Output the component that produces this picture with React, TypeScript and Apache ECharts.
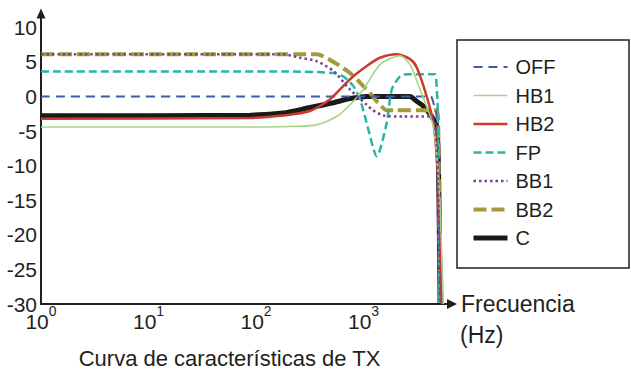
import React, { useEffect, useRef } from 'react';
import * as echarts from 'echarts';

// ---- data (frequency in Hz, level in dB) ----
const seriesNames = ['OFF', 'HB1', 'HB2', 'FP', 'BB1', 'BB2', 'C'];
const yMin = -30;
const yMax = 12;
const yInterval = 5;
const xMin = 1;
const xMax = 6650;

const offData = [[1, 0], [100, 0], [1000, 0], [4200, 0], [4460, -0.9], [4800, -2.9], [4966, -11], [5148, -30]];
const hb1Data = [[1, -4.4], [88, -4.4], [250, -4.3], [367, -4.1], [563, -2.9], [749, -1.2], [996, 1.0], [1423, 4.6], [2186, 5.9], [2710, 4.6], [3357, 1.0], [4009, -2.1], [4461, -4.3], [4797, -8.7], [5148, -15.9], [5525, -30]];
const hb2Data = [[1, -3.2], [88, -3.1], [179, -2.75], [318, -2.1], [488, -0.4], [749, 2.5], [1071, 4.4], [1423, 5.6], [2036, 6.1], [2710, 5.4], [3128, 4.2], [3871, 0], [4461, -3.8], [4797, -8.7], [5074, -15.9], [5339, -30]];
const fpData = [[1, 3.6], [200, 3.6], [524, 3.4], [649, 2.9], [804, 1.5], [927, -0.4], [1033, -2.9], [1109, -4.8], [1327, -8.65], [1643, -3.8], [1829, 1.0], [2186, 2.9], [2522, 3.2], [4300, 3.2], [4627, 3.2], [4860, -0.4], [4966, -6.2], [5074, -30]];
const bb1Data = [[1, 6.1], [179, 6.1], [257, 5.6], [367, 5.1], [524, 3.7], [749, 1.0], [1071, -1.2], [1200, -1.9], [1528, -2.75], [2346, -2.9], [4155, -2.9], [4627, -3.8], [4966, -15], [5148, -30]];
const bb2Data = [[1, 6.1], [367, 6.1], [524, 5.0], [749, 3.4], [996, 1.5], [1149, 0.5], [1327, -0.7], [1423, -1.2], [1643, -2.0], [2000, -2.0], [4800, -2.0], [5000, -10], [5148, -30]];
const cData = [[1, -2.8], [88, -2.7], [179, -2.4], [318, -1.6], [524, -0.9], [749, -0.3], [1071, 0], [2700, 0], [3128, -0.7], [3600, -1.4], [4309, -2.9], [4797, -4.3], [5000, -12], [5148, -30]];

const FONT = '"Liberation Sans", Arial, Helvetica, sans-serif';
const INK = '#231f20';

const STYLES: Record<string, { color: string; width: number; type: any; z: number }> = {
  C: { color: '#1b1a1a', width: 5, type: 'solid', z: 2 },
  BB2: { color: '#a39a3a', width: 4, type: [13, 5], z: 3 },
  OFF: { color: '#3f5ba8', width: 2, type: [9, 6], z: 4 },
  FP: { color: '#27b5a6', width: 2.5, type: [8, 4], z: 5 },
  HB2: { color: '#cc3b2b', width: 2.5, type: 'solid', z: 6 },
  HB1: { color: '#a5d585', width: 1.6, type: 'solid', z: 7 },
  BB1: { color: '#7b3f98', width: 2.5, type: [2.5, 3], z: 8 },
};

export default function App() {
  const ref = useRef<HTMLDivElement>(null);
  useEffect(() => {
    if (!ref.current) return;
    const chart = echarts.init(ref.current, undefined, { renderer: 'svg' });

    const mk = (name: string, data: number[][]) => {
      const s = STYLES[name];
      return {
        name,
        type: 'line',
        data,
        showSymbol: false,
        symbol: 'none',
        smooth: 0.25,
        clip: true,
        z: s.z,
        lineStyle: { color: s.color, width: s.width, type: s.type, cap: 'butt' },
        itemStyle: { color: s.color },
      };
    };

    const option: any = {
      animation: false,
      backgroundColor: '#ffffff',
      grid: { left: 41, top: 13.5, width: 411, height: 290.5, containLabel: false },
      xAxis: {
        type: 'log',
        logBase: 10,
        min: xMin,
        max: xMax,
        axisLine: {
          show: true,
          onZero: false,
          lineStyle: { color: INK, width: 2 },
          symbol: ['none', 'triangle'],
          symbolSize: [10, 10],
        },
        axisTick: { show: false },
        splitLine: { show: false },
        minorTick: { show: false },
        axisLabel: {
          margin: 0,
          showMaxLabel: false,
          formatter: (v: number) => {
            const l = Math.log10(v);
            const e = Math.round(l);
            if (Math.abs(l - e) > 1e-6) return '';
            return '{b|10}{s|' + e + '}';
          },
          rich: {
            b: { fontSize: 21, fontFamily: FONT, color: INK, lineHeight: 28, verticalAlign: 'bottom' },
            s: { fontSize: 14, fontFamily: FONT, color: INK, lineHeight: 28, verticalAlign: 'top' },
          },
        },
      },
      yAxis: {
        type: 'value',
        min: yMin,
        max: yMax,
        interval: yInterval,
        axisLine: {
          show: true,
          onZero: false,
          lineStyle: { color: INK, width: 2 },
          symbol: ['none', 'triangle'],
          symbolSize: [9, 10],
        },
        axisTick: { show: false },
        splitLine: { show: false },
        axisLabel: {
          margin: 4,
          fontSize: 21,
          lineHeight: 15,
          fontFamily: FONT,
          color: INK,
          showMaxLabel: false,
          formatter: (v: number) => (v % 5 === 0 && v <= 10 ? String(v) : ''),
        },
      },
      legend: {
        data: seriesNames.map((n) => ({
          name: n,
          lineStyle: { width: STYLES[n].width, type: STYLES[n].type, color: STYLES[n].color, cap: 'butt' },
        })),
        orient: 'vertical',
        left: 471,
        top: 57,
        itemWidth: 34,
        itemHeight: 14,
        itemGap: 8.5,
        padding: 0,
        selectedMode: false,
        itemStyle: { opacity: 0 },
        textStyle: { fontSize: 20, color: INK, fontFamily: FONT, padding: [0, 0, 0, 3] },
      },
      graphic: [
        {
          type: 'rect',
          shape: { x: 457, y: 40, width: 172, height: 228 },
          style: { fill: 'none', stroke: INK, lineWidth: 1.5 },
          silent: true,
        },
        {
          type: 'text',
          x: 461,
          y: 303.5,
          style: { text: 'Frecuencia', fontSize: 23, fontFamily: FONT, fill: INK, textAlign: 'left', textVerticalAlign: 'middle' },
        },
        {
          type: 'text',
          x: 460,
          y: 335,
          style: { text: '(Hz)', fontSize: 23, fontFamily: FONT, fill: INK, textAlign: 'left', textVerticalAlign: 'middle' },
        },
        {
          type: 'text',
          x: 229.5,
          y: 358,
          style: { text: 'Curva de características de TX', fontSize: 22, fontFamily: FONT, fill: INK, textAlign: 'center', textVerticalAlign: 'middle' },
        },
      ],
      series: [
        mk('C', cData),
        mk('BB2', bb2Data),
        mk('OFF', offData),
        mk('FP', fpData),
        mk('HB2', hb2Data),
        mk('HB1', hb1Data),
        mk('BB1', bb1Data),
      ],
    };
    chart.setOption(option);
    return () => chart.dispose();
  }, []);
  return <div ref={ref} style={{ width: 631, height: 369, position: 'absolute', left: 0, top: 0 }} />;
}
